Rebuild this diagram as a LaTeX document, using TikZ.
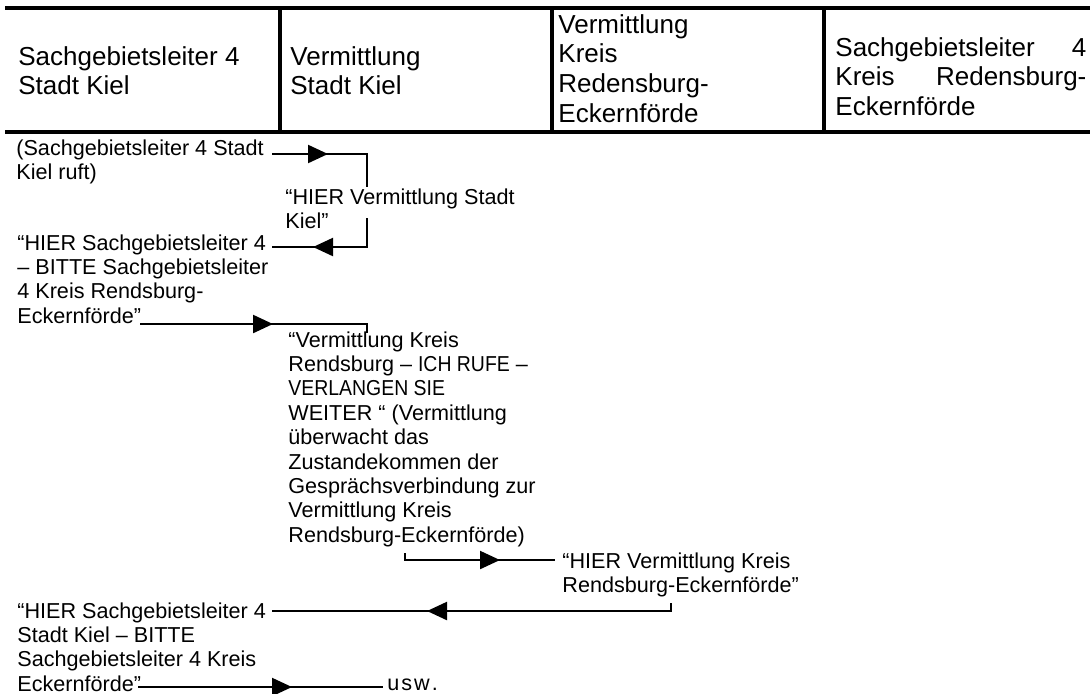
\documentclass[tikz,border=0pt]{standalone}
\usepackage{fontspec}
\setmainfont{Liberation Sans}
\usetikzlibrary{arrows.meta}
\newcommand{\hdfont}{\fontsize{13}{14.9}\selectfont}
\newcommand{\bdfont}{\fontsize{10.8}{12.2}\selectfont}
\newcommand{\cnd}[1]{\scalebox{0.9}[1]{#1}}
\begin{document}
\begin{tikzpicture}[x=0.5pt,y=-0.5pt,
  hd/.style={anchor=base west, inner sep=0pt, font=\hdfont},
  bd/.style={anchor=base west, inner sep=0pt, font=\bdfont},
  rule/.style={line width=1.7pt},
  conn/.style={line width=0.7pt},
  tipseg/.style={line width=1.1pt, -{Triangle[length=10pt,width=9pt]}},
]
\useasboundingbox[fill=white] (0,0) rectangle (1090,693);

% table
\coordinate (TL) at (5,8);   \coordinate (TR) at (1090,8);
\coordinate (BL) at (5,132); \coordinate (BR) at (1090,132);
\coordinate (V1t) at (280,8); \coordinate (V1b) at (280,132);
\coordinate (V2t) at (552,8); \coordinate (V2b) at (552,132);
\coordinate (V3t) at (824,8); \coordinate (V3b) at (824,132);
\draw[rule] (TL) -- (TR);
\draw[rule] (BL) -- (BR);
\draw[rule] (V1t) -- (V1b);
\draw[rule] (V2t) -- (V2b);
\draw[rule] (V3t) -- (V3b);

% header texts
\node[hd] (h1) at (18,65) {\parbox[t]{130pt}{\raggedright Sachgebietsleiter 4\\Stadt Kiel}};
\node[hd] (h2) at (290,65) {\parbox[t]{130pt}{\raggedright Vermittlung\\Stadt Kiel}};
\node[hd] (h3) at (558,33) {\parbox[t]{130pt}{\raggedright Vermittlung\\Kreis\\Redensburg-\\Eckernförde}};
\node[hd] (h4) at (835,56) {\parbox[t]{125.5pt}{Sachgebietsleiter\hfill 4\\Kreis\hfill Redensburg-\\Eckernförde}};

% body texts
\node[bd] (tA) at (16,155) {\parbox[t]{200pt}{\raggedright (Sachgebietsleiter 4 Stadt\\Kiel ruft)}};
\node[bd] (tB) at (285,204) {\parbox[t]{200pt}{\raggedright “HIER Vermittlung Stadt\\Kiel”}};
\node[bd] (tC) at (17,250) {\parbox[t]{200pt}{\raggedright “HIER Sachgebietsleiter 4\\– BITTE Sachgebietsleiter\\4 Kreis Rendsburg-\\Eckernförde”}};
\node[bd] (tD) at (288,347) {\parbox[t]{200pt}{\raggedright “Vermittlung Kreis\\Rendsburg – \cnd{ICH RUFE} –\\\cnd{VERLANGEN SIE}\\WEITER “ (Vermittlung\\überwacht das\\Zustandekommen der\\Gesprächsverbindung zur\\Vermittlung Kreis\\Rendsburg-Eckernförde)}};
\node[bd] (tE) at (562,568) {\parbox[t]{200pt}{\raggedright “HIER Vermittlung Kreis\\Rendsburg-Eckernförde”}};
\node[bd] (tF) at (17,618) {\parbox[t]{200pt}{\raggedright “HIER Sachgebietsleiter 4\\Stadt Kiel – BITTE\\Sachgebietsleiter 4 Kreis\\Eckernförde”}};
\node[bd] (tG) at (387,690) {u\kern1pt s\kern1pt w\kern1pt .};

% connector 1
\coordinate (a1s) at (272,154); \coordinate (a1b) at (293,154);
\coordinate (a1t) at (328,154); \coordinate (a1c) at (367,154);
\coordinate (a1e) at (367,187);
\draw[conn] (a1s) -- (a1c) -- (a1e);
\draw[tipseg] (a1b) -- (a1t);
% connector 2
\coordinate (a2s) at (367,218); \coordinate (a2c) at (367,247);
\coordinate (a2b) at (348,247); \coordinate (a2t) at (313,247);
\coordinate (a2e) at (272,247);
\draw[conn] (a2s) -- (a2c) -- (a2e);
\draw[tipseg] (a2b) -- (a2t);
% connector 3
\coordinate (a3s) at (140,324); \coordinate (a3b) at (238,324);
\coordinate (a3t) at (273,324); \coordinate (a3c) at (367,324);
\coordinate (a3e) at (367,333);
\draw[conn] (a3s) -- (a3c) -- (a3e);
\draw[tipseg] (a3b) -- (a3t);
% connector 4
\coordinate (a4s) at (405,553); \coordinate (a4c) at (405,560);
\coordinate (a4b) at (465,560); \coordinate (a4t) at (500,560);
\coordinate (a4e) at (555,560);
\draw[conn] (a4s) -- (a4c) -- (a4e);
\draw[tipseg] (a4b) -- (a4t);
% connector 5
\coordinate (a5s) at (671,603); \coordinate (a5c) at (671,611);
\coordinate (a5b) at (462,611); \coordinate (a5t) at (427,611);
\coordinate (a5e) at (272,611);
\draw[conn] (a5s) -- (a5c) -- (a5e);
\draw[tipseg] (a5b) -- (a5t);
% connector 6
\coordinate (a6s) at (138,687); \coordinate (a6b) at (257,687);
\coordinate (a6t) at (292,687); \coordinate (a6e) at (383,687);
\draw[conn] (a6s) -- (a6e);
\draw[tipseg] (a6b) -- (a6t);
\end{tikzpicture}
\end{document}
